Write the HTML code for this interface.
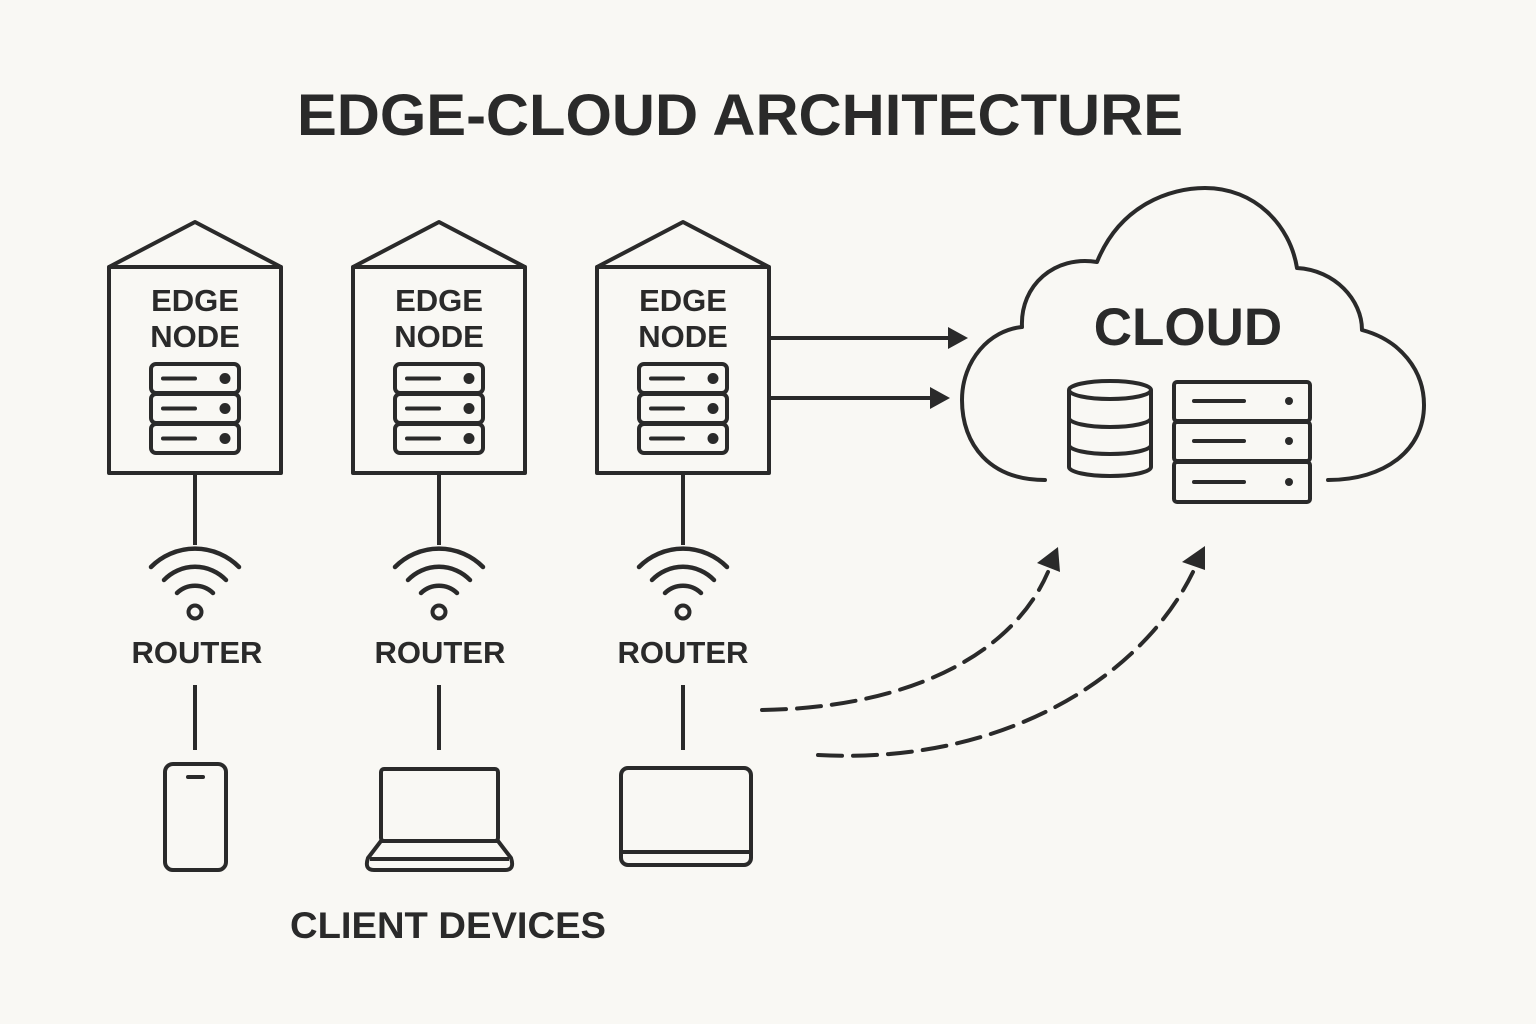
<!DOCTYPE html>
<html><head><meta charset="utf-8"><style>
html,body{margin:0;padding:0;background:#f9f8f4;}
svg{display:block;}
text{font-family:"Liberation Sans",sans-serif;font-weight:bold;fill:#2a2a2a;}
</style></head><body>
<svg width="1536" height="1024" viewBox="0 0 1536 1024" xmlns="http://www.w3.org/2000/svg">
<rect width="1536" height="1024" fill="#f9f8f4"/>
<defs>
<g id="srv">
<rect x="0" y="0" width="88" height="29" rx="5" fill="none" stroke="#2a2a2a" stroke-width="4"/>
<line x1="12" y1="14.5" x2="44" y2="14.5" stroke="#2a2a2a" stroke-width="4" stroke-linecap="round"/>
<circle cx="74" cy="14.5" r="3.5" fill="#2a2a2a"/>
</g>
<g id="node" fill="none" stroke="#2a2a2a" stroke-width="4" stroke-linejoin="round">
<polyline points="-86,267 0,222 86,267"/>
<rect x="-86" y="267" width="172" height="206"/>
<use href="#srv" x="-44" y="364"/>
<use href="#srv" x="-44" y="394"/>
<use href="#srv" x="-44" y="424"/>
<line x1="0" y1="473" x2="0" y2="545"/>
<path d="M-44,567 A62,62 0 0 1 44,567" stroke-linecap="round" stroke-width="4.5"/>
<path d="M-31,580 A43,43 0 0 1 31,580" stroke-linecap="round" stroke-width="4.5"/>
<path d="M-18,593 A26,26 0 0 1 18,593" stroke-linecap="round" stroke-width="4.5"/>
<circle cx="0" cy="612" r="6.5"/>
<line x1="0" y1="685" x2="0" y2="750"/>
</g>
</defs>
<text x="297" y="135" font-size="58" textLength="886" lengthAdjust="spacingAndGlyphs">EDGE-CLOUD ARCHITECTURE</text>

<use href="#node" x="195" y="0"/>
<use href="#node" x="439" y="0"/>
<use href="#node" x="683" y="0"/>
<g font-size="31" text-anchor="middle">
<text x="195" y="311">EDGE</text><text x="195" y="347">NODE</text>
<text x="439" y="311">EDGE</text><text x="439" y="347">NODE</text>
<text x="683" y="311">EDGE</text><text x="683" y="347">NODE</text>
<text x="197" y="663">ROUTER</text>
<text x="440" y="663">ROUTER</text>
<text x="683" y="663">ROUTER</text>
</g>

<g fill="none" stroke="#2a2a2a" stroke-width="4" stroke-linejoin="round">
<rect x="165" y="764" width="61" height="106" rx="8"/>
<line x1="188" y1="777" x2="203" y2="777" stroke-linecap="round"/>
<rect x="381" y="769" width="117" height="72" rx="3"/>
<path d="M381,841 L368,858 Q364,870 374,870 L505,870 Q515,870 511,858 L498,841 Z"/>
<line x1="370" y1="859" x2="509" y2="859"/>
<rect x="621" y="768" width="130" height="97" rx="7"/>
<line x1="621" y1="852" x2="751" y2="852"/>
<line x1="769" y1="338" x2="952" y2="338"/>
<line x1="769" y1="398" x2="934" y2="398"/>
<path d="M1045,480 C990,480 962,445 962,400 C962,360 990,330 1022,327 C1020,285 1055,255 1097,262 C1120,205 1170,188 1205,188 C1255,188 1290,225 1297,268 C1335,270 1362,300 1362,330 C1400,340 1424,370 1424,405 C1424,450 1385,480 1328,480" stroke-linecap="round"/>
<ellipse cx="1110" cy="390" rx="41" ry="9"/>
<path d="M1069,390 L1069,467 A41,9 0 0 0 1151,467 L1151,390"/>
<path d="M1069,418 A41,9 0 0 0 1151,418"/>
<path d="M1069,445 A41,9 0 0 0 1151,445"/>
<rect x="1174" y="382" width="136" height="39" rx="3"/>
<rect x="1174" y="422" width="136" height="39" rx="3"/>
<rect x="1174" y="462" width="136" height="40" rx="3"/>
<g stroke-linecap="round">
<line x1="1194" y1="401" x2="1244" y2="401"/>
<line x1="1194" y1="441" x2="1244" y2="441"/>
<line x1="1194" y1="482" x2="1244" y2="482"/>
</g>
<path d="M762,710 C900,708 1010,660 1048,572" stroke-dasharray="24,11" stroke-linecap="round"/>
<path d="M818,755 C1000,765 1140,680 1193,572" stroke-dasharray="24,11" stroke-linecap="round"/>
</g>
<g fill="#2a2a2a">
<polygon points="968,338 948,327 948,349"/>
<polygon points="950,398 930,387 930,409"/>
<polygon points="1058,547 1037,563 1060,572"/>
<polygon points="1205,546 1182,562 1205,570"/>
<circle cx="1289" cy="401" r="4"/>
<circle cx="1289" cy="441" r="4"/>
<circle cx="1289" cy="482" r="4"/>
</g>
<text x="1188" y="345" font-size="53" text-anchor="middle">CLOUD</text>
<text x="290" y="938" font-size="37" textLength="316" lengthAdjust="spacingAndGlyphs">CLIENT DEVICES</text>
</svg>
</body></html>
